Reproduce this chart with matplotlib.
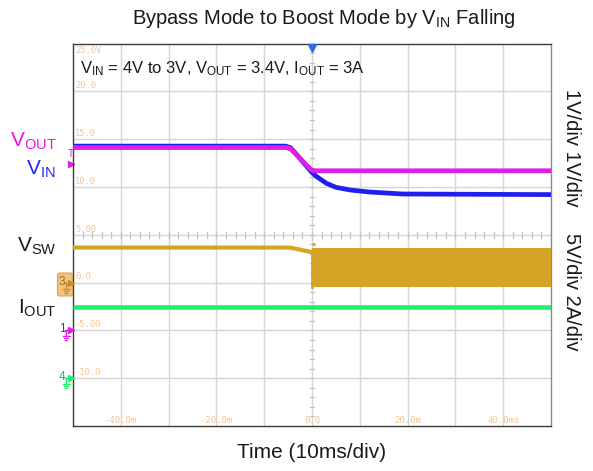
import numpy as np
import matplotlib
matplotlib.use("Agg")
import matplotlib.pyplot as plt
from matplotlib.lines import Line2D
from matplotlib.patches import FancyBboxPatch

plt.rcParams['font.family'] = ['Liberation Sans', 'DejaVu Sans']
plt.rcParams['mathtext.fontset'] = 'custom'
plt.rcParams['mathtext.rm'] = 'Liberation Sans'
plt.rcParams['mathtext.it'] = 'Liberation Sans:italic'
plt.rcParams['mathtext.bf'] = 'Liberation Sans:bold'

# ---------------- data (time in ms, amplitude in screen units) ----------------
vin_t = [-50, -5.5, -4.5, -3.5, 0.0, 1.0, 3.0, 5.0, 8.0, 12.0, 19.0, 50]
vin_v = [14.27, 14.27, 14.1, 13.55, 11.5, 11.07, 10.38, 9.96, 9.68, 9.47, 9.26, 9.2]

vout_t = [-50, -5.5, -4.5, -3.5, -0.3, 0.3, 50]
vout_v = [14.12, 14.12, 14.0, 13.49, 11.85, 11.69, 11.69]

vsw_t = [-50, -4.6, -0.4, 0.1]
vsw_v = [3.66, 3.66, 3.22, 3.22]
vsw_band_t = [0.1, 50]
vsw_band_hi = [3.62, 3.62]
vsw_band_lo = [-0.44, -0.44]
vsw_spike_t = [0.0, 0.6]
vsw_spike_v = [4.0, 4.0]

iout_t = [-50, 50]
iout_v = [-2.58, -2.58]

ytick_vals = [25, 20, 15, 10, 5, 0, -5, -10]
ytick_text = ["25.0V", "20.0", "15.0", "10.0", "5.00", "0.0", "-5.00", "-10.0"]
xtick_vals = [-40, -20, 0, 20, 40]
xtick_text = ["-40.0m", "-20.0m", "0.0", "20.0m", "40.0ms"]

# ---------------- figure ----------------
W, H = 593, 471
fig = plt.figure(figsize=(W / 100, H / 100), dpi=100)

def fx(px):
    return px / W

def fy(py):
    return 1 - py / H

ax_l, ax_r, ax_t, ax_b = 73, 551, 43.5, 426
ax = fig.add_axes([fx(ax_l), fy(ax_b), (ax_r - ax_l) / W, (ax_b - ax_t) / H])
ax.set_xlim(-50, 50)
ax.set_ylim(-15, 25)
ax.set_xticks([])
ax.set_yticks([])
for s in ax.spines.values():
    s.set_color('#3a3a3a')
    s.set_linewidth(1.0)
ax.spines['right'].set_color('#8a8a8a')

gcol = '#d6d6d6'
for xv in np.arange(-40, 50, 10):
    ax.axvline(xv, color=gcol, lw=1.0, zorder=1)
for yv in np.arange(-10, 25, 5):
    ax.axhline(yv, color=gcol, lw=1.0, zorder=1)
# minor ticks on centre lines
tcol = '#c4c4c4'
for yy in np.arange(-15, 25.01, 1.0):
    ax.plot([-0.45, 0.45], [yy, yy], color=tcol, lw=0.9, zorder=1)
for xx in np.arange(-50, 50.01, 2.0):
    ax.plot([xx, xx], [4.7, 5.3], color=tcol, lw=0.9, zorder=1)

ocol = '#f6c293'
for v, t in zip(ytick_vals, ytick_text):
    if v == 25:
        ax.text(-49.6, v - 0.25, t, color=ocol, fontsize=6.3, family='DejaVu Sans Mono', va='top', ha='left', zorder=2)
    else:
        ax.text(-49.6, v + 0.12, t, color=ocol, fontsize=6.3, family='DejaVu Sans Mono', va='bottom', ha='left', zorder=2)
for v, t in zip(xtick_vals, xtick_text):
    ax.text(v, -14.85, t, color=ocol, fontsize=6.5, family='DejaVu Sans Mono', va='bottom', ha='center', zorder=2)

# ---------------- traces ----------------
c_vin = '#1f1ff0'
c_vout = '#e01ee6'
c_vsw = '#d4a424'
c_iout = '#1ff06c'

ax.plot(iout_t, iout_v, color=c_iout, lw=3.3, zorder=3, solid_capstyle='butt')
ax.plot(vsw_t, vsw_v, color=c_vsw, lw=3.0, zorder=3, solid_capstyle='butt')
ax.fill_between(vsw_band_t, vsw_band_lo, vsw_band_hi, color=c_vsw, lw=0, zorder=3)
ax.plot(vsw_spike_t, vsw_spike_v, color=c_vsw, lw=2.0, zorder=3, solid_capstyle='butt')
ax.plot([0.1, 0.1], [vsw_band_lo[0], vsw_v[-1]], color=c_vsw, lw=2.0, zorder=3)
ax.plot(vin_t, vin_v, color=c_vin, lw=3.4, zorder=4, solid_capstyle='butt')
ax.plot(vout_t, vout_v, color=c_vout, lw=3.4, zorder=5, solid_capstyle='butt')

# trigger marker top
ax.plot([0], [24.55], marker='v', color='#2a6fe0', ms=5.5, clip_on=False, zorder=6)
# magenta trigger level markers at left
fig.text(fx(70), fy(154), 'T', color=c_vout, fontsize=7, family='DejaVu Sans', ha='center', va='center')
ax.plot([-50.35], [12.4], marker='>', color=c_vout, ms=4.5, clip_on=False)

# channel ground markers (digit, arrow, ground symbol drawn as lines)
def ground_marker(py, digit, col, dcol, boxed=False):
    if boxed:
        box = FancyBboxPatch((fx(57.5), fy(296)), (72.5 - 57.5) / W, (296 - 273) / H,
                             boxstyle='round,pad=0.0,rounding_size=0.004',
                             transform=fig.transFigure, facecolor='#f2c27e',
                             edgecolor='#d9a650', lw=0.8, zorder=1)
        fig.patches.append(box)
    fig.text(fx(62), fy(py - 1), digit, color=dcol, fontsize=8.5, ha='center', va='center', zorder=3)
    tr = fig.transFigure
    # arrow stem and head
    fig.add_artist(Line2D([fx(65), fx(69)], [fy(py), fy(py)], color=col, lw=1.0, transform=tr))
    fig.add_artist(Line2D([fx(70.5)], [fy(py)], marker='>', ms=4.5, color=col, lw=0, transform=tr))
    # ground symbol
    gx = 66
    fig.add_artist(Line2D([fx(gx), fx(gx)], [fy(py), fy(py + 6)], color=col, lw=1.0, transform=tr))
    for i, hw in enumerate([3.5, 2.3, 1.1]):
        yy = py + 6 + i * 1.8
        fig.add_artist(Line2D([fx(gx - hw), fx(gx + hw)], [fy(yy), fy(yy)], color=col, lw=0.9, transform=tr))

ground_marker(283, '3', '#c09030', '#a06a10', boxed=True)
ground_marker(330, '1', c_vout, '#5a20e0')
ground_marker(378, '4', c_iout, '#10c060')

# ---------------- text ----------------
fig.text(fx(324), fy(18), r'Bypass Mode to Boost Mode by V$_{\mathrm{IN}}$ Falling', fontsize=14.5,
         ha='center', va='center', color='#1a1a1a')
fig.text(fx(80), fy(69), r'V$_{\mathrm{IN}}$ = 4V to 3V, V$_{\mathrm{OUT}}$ = 3.4V, I$_{\mathrm{OUT}}$ = 3A',
         fontsize=12, ha='left', va='center', color='#1a1a1a')
fig.text(fx(57), fy(146.7), r'V$_{\mathrm{OUT}}$', fontsize=15, ha='right', va='baseline', color='#f010f0')
fig.text(fx(56), fy(175), r'V$_{\mathrm{IN}}$', fontsize=15, ha='right', va='baseline', color='#2222ff')
fig.text(fx(57), fy(251.7), r'V$_{\mathrm{SW}}$', fontsize=15, ha='right', va='baseline', color='#1a1a1a')
fig.text(fx(57), fy(313.3), r'I$_{\mathrm{OUT}}$', fontsize=15, ha='right', va='baseline', color='#1a1a1a')
fig.text(fx(572), fy(147.5), '1V/div 1V/div', fontsize=14.5, rotation=270, ha='center', va='center', color='#1a1a1a')
fig.text(fx(572), fy(291.5), '5V/div 2A/div', fontsize=14.5, rotation=270, ha='center', va='center', color='#1a1a1a')
fig.text(fx(312), fy(453), 'Time (10ms/div)', fontsize=15, ha='center', va='center', color='#1a1a1a')

fig.savefig('out.png', dpi=100)
